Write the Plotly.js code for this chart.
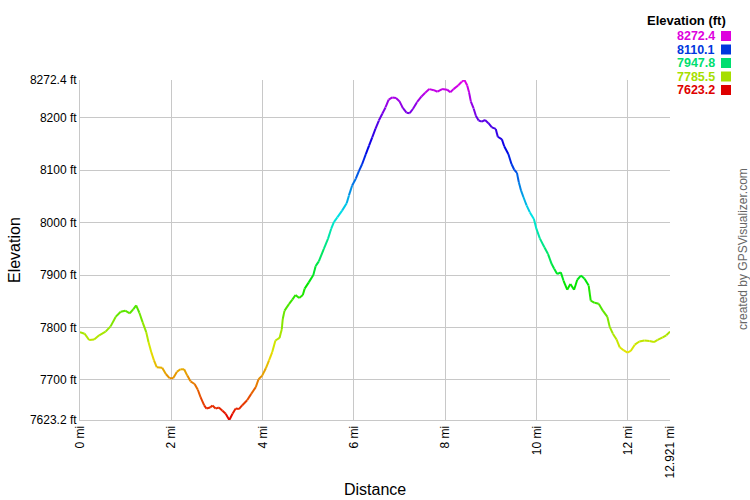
<!DOCTYPE html>
<html>
<head>
<meta charset="utf-8">
<script src="https://cdn.plot.ly/plotly-3.0.1.min.js"></script>
<style>html,body{margin:0;padding:0;background:#fff;}#chart{width:750px;height:500px;}</style>
</head>
<body>
<div id="chart"></div>
<script>
// Distance along track (mi)
const distance = [0, 0.1, 0.2, 0.31, 0.42, 0.56, 0.67, 0.78, 0.89, 0.99, 1.09, 1.17, 1.23, 1.30, 1.37, 1.45, 1.50, 1.56, 1.62, 1.68, 1.80, 1.88, 1.96, 2.04, 2.12, 2.20, 2.28, 2.35, 2.42, 2.51, 2.58, 2.64, 2.72, 2.77, 2.85, 2.90, 2.97, 3.04, 3.12, 3.19, 3.27, 3.34, 3.41, 3.48, 3.55, 3.66, 3.75, 3.85, 3.91, 3.99, 4.07, 4.14, 4.21, 4.28, 4.37, 4.42, 4.44, 4.48, 4.58, 4.65, 4.72, 4.80, 4.88, 4.92, 5.01, 5.11, 5.16, 5.23, 5.34, 5.43, 5.50, 5.56, 5.635, 5.74, 5.84, 5.89, 5.96, 6.04, 6.11, 6.18, 6.26, 6.33, 6.40, 6.47, 6.545, 6.62, 6.69, 6.76, 6.84, 6.92, 6.996, 7.07, 7.15, 7.22, 7.29, 7.38, 7.48, 7.56, 7.65, 7.75, 7.83, 7.93, 8.04, 8.11, 8.18, 8.28, 8.36, 8.42, 8.48, 8.52, 8.56, 8.62, 8.67, 8.73, 8.80, 8.87, 8.945, 9.02, 9.105, 9.15, 9.24, 9.29, 9.38, 9.45, 9.51, 9.57, 9.61, 9.66, 9.71, 9.78, 9.85, 9.94, 9.996, 10.07, 10.17, 10.25, 10.33, 10.385, 10.45, 10.53, 10.59, 10.67, 10.74, 10.82, 10.89, 10.97, 11.05, 11.14, 11.185, 11.27, 11.36, 11.45, 11.55, 11.60, 11.67, 11.75, 11.82, 11.91, 11.99, 12.06, 12.15, 12.25, 12.36, 12.47, 12.57, 12.65, 12.76, 12.84, 12.921];
// Elevation (ft)
const elevation = [7791, 7788, 7776, 7777, 7785, 7792, 7802, 7820, 7830, 7832, 7827, 7835, 7842, 7828, 7810, 7791, 7772, 7753, 7737, 7724, 7723, 7711, 7703, 7703, 7715, 7720, 7720, 7708, 7697, 7692, 7681, 7667, 7651, 7645, 7647, 7651, 7645, 7647, 7641, 7635, 7623.2, 7635, 7645, 7644, 7651, 7661, 7673, 7686, 7701, 7708, 7722, 7737, 7753, 7775, 7780, 7797, 7816, 7832, 7845, 7853, 7862, 7856, 7862, 7874, 7886, 7900, 7917, 7926, 7950, 7969, 7988, 8001, 8010, 8023, 8037, 8052, 8071, 8084, 8099, 8112, 8131, 8147, 8163, 8179, 8195, 8208, 8220, 8235, 8239, 8238, 8232, 8219, 8210, 8209, 8217, 8230, 8241, 8248, 8255, 8253, 8250, 8255, 8254, 8249, 8255, 8262, 8269, 8272.4, 8262, 8249, 8231, 8218, 8204, 8195, 8193, 8196, 8190, 8182, 8179, 8164, 8159, 8146, 8131, 8112, 8101, 8095, 8077, 8061, 8049, 8033, 8020, 8007, 7988, 7970, 7953, 7940, 7921, 7912, 7902, 7905, 7889, 7872, 7883, 7872, 7891, 7899, 7893, 7880, 7851, 7847, 7845, 7832, 7820, 7801, 7788, 7777, 7762, 7756, 7752, 7755, 7767, 7773, 7775, 7774, 7772, 7776, 7781, 7785, 7792];

const yTickVals = [7623.2, 7700, 7800, 7900, 8000, 8100, 8200, 8272.4];
const yTickText = ['7623.2 ft', '7700 ft', '7800 ft', '7900 ft', '8000 ft', '8100 ft', '8200 ft', '8272.4 ft'];
const xTickVals = [0, 2, 4, 6, 8, 10, 12, 12.921];
const xTickText = ['0 mi', '2 mi', '4 mi', '6 mi', '8 mi', '10 mi', '12 mi', '12.921 mi'];
const legendVals = [8272.4, 8110.1, 7947.8, 7785.5, 7623.2];

const eMin = 7623.2, eMax = 8272.4;
function hsv(h, s, v) {
  const f = (n) => { const k = (n + h / 60) % 6; return v - v * s * Math.max(0, Math.min(k, 4 - k, 1)); };
  const r = Math.round(f(5) * 255), g = Math.round(f(3) * 255), b = Math.round(f(1) * 255);
  return 'rgb(' + r + ',' + g + ',' + b + ')';
}
function elevColor(e, v) {
  const t = Math.max(0, Math.min(1, (e - eMin) / (eMax - eMin)));
  return hsv(300 * t, 1, v);
}

const traces = [];
for (let i = 0; i < distance.length - 1; i++) {
  const mid = (elevation[i] + elevation[i + 1]) / 2;
  traces.push({
    x: [distance[i], distance[i + 1]],
    y: [elevation[i], elevation[i + 1]],
    type: 'scatter', mode: 'lines',
    line: { color: elevColor(mid, 0.9), width: 2 },
    hoverinfo: 'skip', showlegend: false
  });
}

const font = 'Liberation Sans, Arial, sans-serif';
const annotations = [
  { text: 'Distance', xref: 'paper', yref: 'paper', x: 0.5, y: (420 - 489) / 340, xanchor: 'center', yanchor: 'middle', showarrow: false, font: { family: font, size: 16, color: '#000' } },
  { text: 'Elevation', xref: 'paper', yref: 'paper', x: (14 - 80) / 590, y: 0.5, xanchor: 'center', yanchor: 'middle', textangle: -90, showarrow: false, font: { family: font, size: 16, color: '#000' } },
  { text: 'created by GPSVisualizer.com', xref: 'paper', yref: 'paper', x: (743 - 80) / 590, y: (420 - 249) / 340, xanchor: 'center', yanchor: 'middle', textangle: -90, showarrow: false, font: { family: font, size: 12, color: '#666' } },
  { text: '<b>Elevation (ft)</b>', xref: 'paper', yref: 'paper', x: (728 - 80) / 590, y: (420 - 21) / 340, xanchor: 'right', yanchor: 'middle', showarrow: false, font: { family: font, size: 13, color: '#000' } }
];
const shapes = [];
legendVals.forEach((v, i) => {
  const yPx = 36 + i * 13.5;
  const yPaper = (420 - yPx) / 340;
  annotations.push({ text: '<b>' + v.toFixed(1) + '</b>', xref: 'paper', yref: 'paper', x: (716 - 80) / 590, y: yPaper, xanchor: 'right', yanchor: 'middle', showarrow: false, borderpad: 0, font: { family: font, size: 12.5, color: elevColor(v, 0.87) } });
  shapes.push({ type: 'rect', xref: 'paper', yref: 'paper', x0: (721 - 80) / 590, x1: (731 - 80) / 590, y0: (420 - (yPx + 5)) / 340, y1: (420 - (yPx - 5)) / 340, fillcolor: elevColor(v, 0.87), line: { width: 0 } });
});

const layout = {
  width: 750, height: 500,
  margin: { l: 80, r: 80, t: 80, b: 80, pad: 0 },
  paper_bgcolor: '#fff', plot_bgcolor: '#fff',
  showlegend: false,
  font: { family: font, size: 12, color: '#000' },
  xaxis: {
    range: [0, 12.921], tickmode: 'array', tickvals: xTickVals, ticktext: xTickText,
    tickangle: -90, showgrid: true, gridcolor: '#c8c8c8', gridwidth: 1, zeroline: false,
    showline: true, linecolor: '#c8c8c8', ticks: '', fixedrange: true,
    tickfont: { family: font, size: 12, color: '#000' }
  },
  yaxis: {
    range: [eMin, eMax], tickmode: 'array', tickvals: yTickVals, ticktext: yTickText,
    showgrid: true, gridcolor: '#c8c8c8', gridwidth: 1, zeroline: false,
    showline: true, linecolor: '#c8c8c8', ticks: '', fixedrange: true,
    tickfont: { family: font, size: 12, color: '#000' }
  },
  annotations: annotations,
  shapes: shapes
};

Plotly.newPlot('chart', traces, layout, { displayModeBar: false, staticPlot: true });
</script>
</body>
</html>
